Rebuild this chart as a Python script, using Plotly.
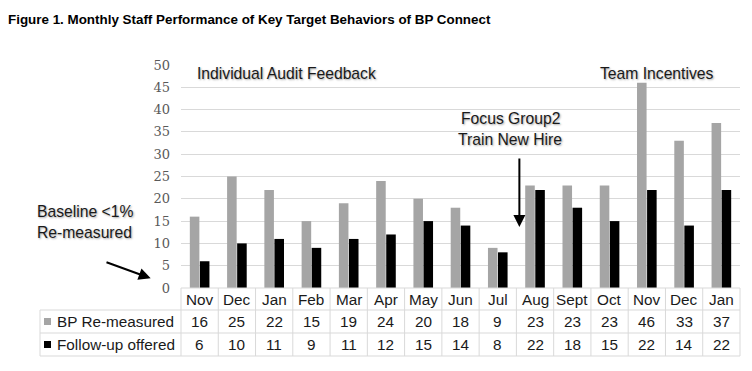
import plotly.graph_objects as go

# ---------------- data ----------------
months = ["Nov", "Dec", "Jan", "Feb", "Mar", "Apr", "May", "Jun", "Jul",
          "Aug", "Sept", "Oct", "Nov", "Dec", "Jan"]
bp_remeasured = [16, 25, 22, 15, 19, 24, 20, 18, 9, 23, 23, 23, 46, 33, 37]
followup_offered = [6, 10, 11, 9, 11, 12, 15, 14, 8, 22, 18, 15, 22, 14, 22]
series_names = ["BP Re-measured", "Follow-up offered"]
series_colors = ["#a5a5a5", "#000000"]
y_ticks = [0, 5, 10, 15, 20, 25, 30, 35, 40, 45, 50]
title_text = "Figure 1. Monthly Staff Performance of Key Target Behaviors of BP Connect"

# ---------------- layout geometry (page pixels; page body has 8px margin) ----------------
OFF = 8
W, H = 736, 355
PL, PR, PT, PB = 181, 740, 65, 288          # plot area in page pixels
ML, MT = PL - OFF, PT - OFF
PW, PH = PR - PL, PB - PT
MR, MB = W - ML - PW, H - MT - PH
n = len(months)
xs = list(range(n))

def pxx(px):  # page pixel x -> paper x
    return (px - PL) / PW

def pxy(py):  # page pixel y -> paper y
    return (PB - py) / PH

fig = go.Figure()
for vals, name, col in zip([bp_remeasured, followup_offered], series_names, series_colors):
    fig.add_bar(x=xs, y=vals, name=name, marker_color=col, marker_line_width=0)

grid_col = "#d9d9d9"
txt_font = dict(family="Liberation Sans, Arial, sans-serif", size=15.3, color="#1a1a1a")
shadow = "1px 1px 2px rgba(0,0,0,0.35)"

shapes = []
annotations = []

# table geometry in page pixels
row_edges_px = [288, 310, 333, 356]
row_edges = [pxy(v) for v in row_edges_px]
left_edge = pxx(40)

shapes.append(dict(type="line", xref="paper", yref="paper", x0=0, x1=1,
                   y0=row_edges[0], y1=row_edges[0], line=dict(color=grid_col, width=1)))
for ye in row_edges[1:]:
    shapes.append(dict(type="line", xref="paper", yref="paper", x0=left_edge, x1=1,
                       y0=ye, y1=ye, line=dict(color=grid_col, width=1)))
for k in range(n + 1):
    shapes.append(dict(type="line", xref="paper", yref="paper", x0=k / n, x1=k / n,
                       y0=row_edges[0], y1=row_edges[3], line=dict(color=grid_col, width=1)))
shapes.append(dict(type="line", xref="paper", yref="paper", x0=left_edge, x1=left_edge,
                   y0=row_edges[1], y1=row_edges[3], line=dict(color=grid_col, width=1)))

row_mid = [(row_edges[i] + row_edges[i + 1]) / 2 for i in range(3)]

for k, m in enumerate(months):
    annotations.append(dict(x=(k + 0.5) / n, y=row_mid[0], xref="paper", yref="paper",
                            text=m, showarrow=False, font=txt_font,
                            xanchor="center", yanchor="middle"))
for r, vals in enumerate([bp_remeasured, followup_offered]):
    for k, v in enumerate(vals):
        annotations.append(dict(x=(k + 0.5) / n, y=row_mid[r + 1], xref="paper", yref="paper",
                                text=str(v), showarrow=False, font=txt_font,
                                xanchor="center", yanchor="middle"))
sq = 3.5 / PH
for r, (name, col) in enumerate(zip(series_names, series_colors)):
    ym = row_mid[r + 1]
    shapes.append(dict(type="rect", xref="paper", yref="paper", x0=pxx(44), x1=pxx(51),
                       y0=ym - sq, y1=ym + sq, fillcolor=col, line=dict(width=0)))
    annotations.append(dict(x=pxx(55), y=ym, xref="paper", yref="paper", text=name,
                            showarrow=False, font=txt_font, xanchor="left", yanchor="middle"))

ann_font = dict(family="Liberation Sans, Arial, sans-serif", size=15.7, color="#1a1a1a", shadow=shadow)
annotations += [
    dict(x=2.32, y=48.0, xref="x", yref="y", text="Individual Audit Feedback",
         showarrow=False, font=ann_font),
    dict(x=12.27, y=48.2, xref="x", yref="y", text="Team Incentives",
         showarrow=False, font=ann_font),
    dict(x=8.34, y=38.1, xref="x", yref="y", text="Focus Group2",
         showarrow=False, font=ann_font),
    dict(x=8.33, y=33.2, xref="x", yref="y", text="Train New Hire",
         showarrow=False, font=ann_font),
    dict(x=8.58, y=13.7, xref="x", yref="y", ax=8.58, ay=29.4, axref="x", ayref="y",
         text="", showarrow=True, arrowhead=2, arrowsize=1.2, arrowwidth=2, arrowcolor="#000"),
    dict(x=pxx(35), y=pxy(221.7), xref="paper", yref="paper", text="Baseline <1%",
         showarrow=False, font=ann_font, xanchor="left"),
    dict(x=pxx(35), y=pxy(243), xref="paper", yref="paper", text="Re-measured",
         showarrow=False, font=ann_font, xanchor="left"),
    dict(x=pxx(150.7), y=pxy(278.3), xref="paper", yref="paper", text="",
         showarrow=True, ax=-45.7, ay=-16.6, arrowhead=2, arrowsize=1.2, arrowwidth=2,
         arrowcolor="#000"),
]

fig.update_layout(
    width=W, height=H,
    margin=dict(l=ML, r=MR, t=MT, b=MB, pad=0, autoexpand=False),
    plot_bgcolor="white", paper_bgcolor="white",
    barmode="group", bargap=0.46, bargroupgap=0.05,
    showlegend=False,
    title=dict(text="<b>" + title_text + "</b>", x=0, xanchor="left",
               y=1 - (19 - OFF) / H, yanchor="middle", xref="container", yref="container",
               font=dict(family="Liberation Sans, Arial, sans-serif",
                         size=13.4, color="#000")),
    xaxis=dict(range=[-0.5, n - 0.5], showticklabels=False, showgrid=False,
               zeroline=False, showline=False, fixedrange=True),
    yaxis=dict(range=[0, 50], tickvals=y_ticks, showgrid=True, gridcolor=grid_col,
               gridwidth=1, zeroline=False, showline=False, ticks="",
               ticklabelstandoff=10,
               tickfont=dict(family="DejaVu Serif, serif", size=13, color="#595959")),
    shapes=shapes, annotations=annotations,
)

fig.write_html("out.html")
